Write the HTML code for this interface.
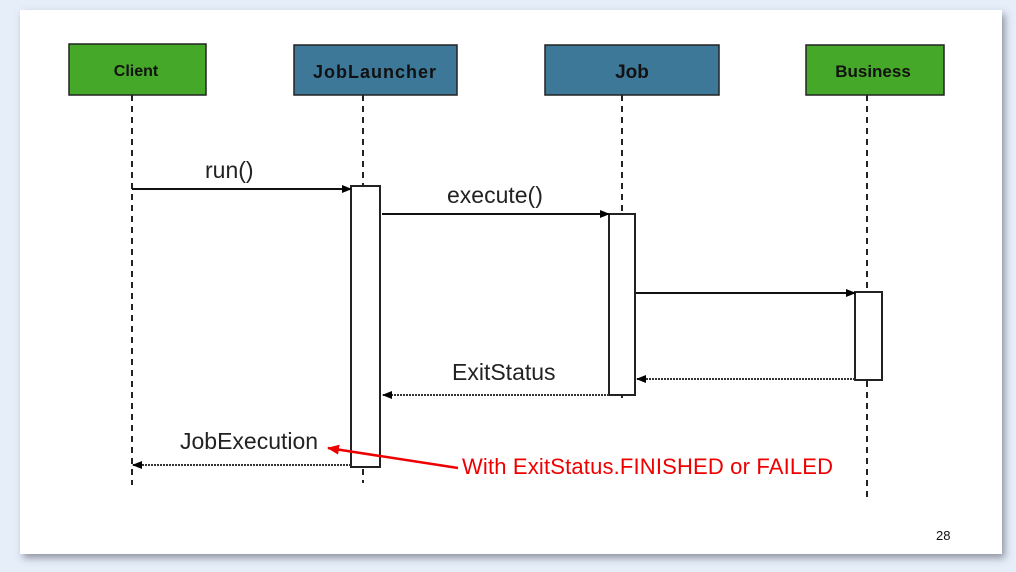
<!DOCTYPE html><html><head><style>body{margin:0;width:1016px;height:567px;background:#e6eefa;overflow:hidden}</style></head><body>
<svg width="1016" height="567" xmlns="http://www.w3.org/2000/svg" font-family="Liberation Sans, sans-serif">
<defs>
<filter id="sh" x="-5%" y="-5%" width="110%" height="115%"><feDropShadow dx="3" dy="4" stdDeviation="4" flood-color="#556" flood-opacity="0.6"/></filter>
<marker id="a" markerWidth="10" markerHeight="8" refX="9" refY="4" orient="auto" markerUnits="userSpaceOnUse"><path d="M0,0L10,4L0,8z" fill="#000"/></marker>
<marker id="r" markerWidth="12" markerHeight="10" refX="11" refY="5" orient="auto" markerUnits="userSpaceOnUse"><path d="M0,0L12,5L0,10z" fill="#e00"/></marker>
</defs>
<rect x="20" y="10" width="982" height="544" fill="#fff" filter="url(#sh)"/>
<g stroke="#222" stroke-width="2" stroke-dasharray="6,5">
<line x1="132" y1="95" x2="132" y2="485"/>
<line x1="363" y1="95" x2="363" y2="483"/>
<line x1="622" y1="95" x2="622" y2="400"/>
<line x1="867" y1="95" x2="867" y2="498"/>
</g>
<g stroke="#222" stroke-width="1.5">
<rect x="69" y="44" width="137" height="51" fill="#46a829"/>
<rect x="294" y="45" width="163" height="50" fill="#3e7898"/>
<rect x="545" y="45" width="174" height="50" fill="#3e7898"/>
<rect x="806" y="45" width="138" height="50" fill="#46a829"/>
</g>
<g font-weight="bold" text-anchor="middle" fill="#111">
<text x="136" y="76" font-size="16">Client</text>
<text x="375" y="78" font-size="18" letter-spacing="1">JobLauncher</text>
<text x="632" y="78" font-size="19">Job</text>
<text x="873" y="77" font-size="17">Business</text>
</g>
<g stroke="#222" stroke-width="2" fill="#fff">
<rect x="351" y="186" width="29" height="281"/>
<rect x="609" y="214" width="26" height="181"/>
<rect x="855" y="292" width="27" height="88"/>
</g>
<g stroke="#111" stroke-width="2" marker-end="url(#a)">
<line x1="132" y1="189" x2="351" y2="189"/>
<line x1="382" y1="214" x2="609" y2="214"/>
<line x1="636" y1="293" x2="855" y2="293"/>
</g>
<g stroke="#333" stroke-width="2" stroke-dasharray="2,1" marker-end="url(#a)">
<line x1="855" y1="379" x2="637" y2="379"/>
<line x1="609" y1="395" x2="383" y2="395"/>
<line x1="351" y1="465" x2="133" y2="465"/>
</g>
<g font-size="23" fill="#222">
<text x="205" y="178">run()</text>
<text x="447" y="203">execute()</text>
<text x="452" y="380">ExitStatus</text>
<text x="180" y="449">JobExecution</text>
</g>
<line x1="458" y1="468" x2="328" y2="448" stroke="#e00" stroke-width="2.5" marker-end="url(#r)"/>
<text x="462" y="474" font-size="22" fill="#e00" textLength="371">With ExitStatus.FINISHED or FAILED</text>
<text x="936" y="540" font-size="13" fill="#111">28</text>
</svg>
</body></html>
